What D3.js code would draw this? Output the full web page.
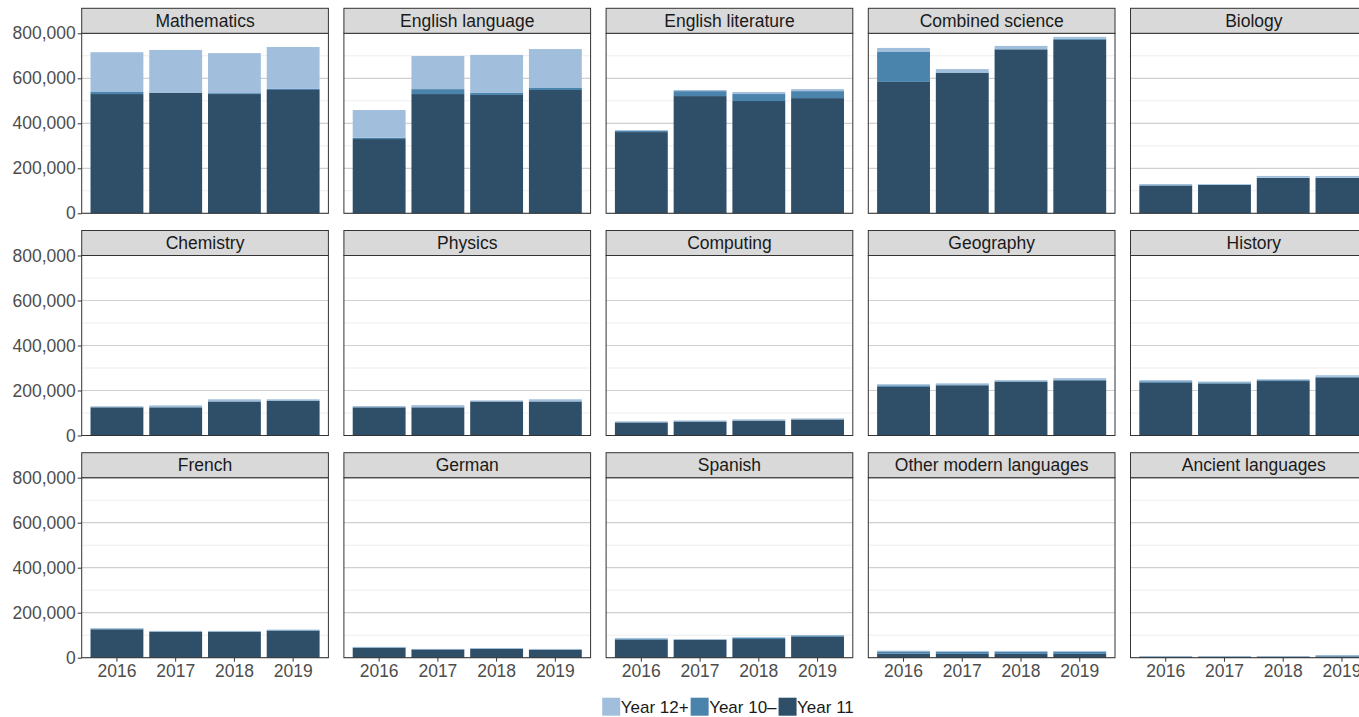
<!DOCTYPE html>
<html>
<head>
<meta charset="utf-8">
<script src="https://cdn.jsdelivr.net/npm/d3@7"></script>
<style>
  body { margin: 0; background: #fff; }
  svg { display: block; font-family: "Liberation Sans", Arial, Helvetica, sans-serif; }
</style>
</head>
<body>
<div id="chart"></div>
<script>
// subjects in facet order (row by row)
const subjects = [
    'Mathematics', 'English language', 'English literature', 'Combined science', 'Biology',
    'Chemistry', 'Physics', 'Computing', 'Geography', 'History',
    'French', 'German', 'Spanish', 'Other modern languages', 'Ancient languages'
];
const years = ['2016', '2017', '2018', '2019'];

// entries per subject, one value per year
const year11 = [
    [530000, 535000, 530000, 548000],
    [330000, 530000, 526000, 548000],
    [361000, 521000, 499000, 512000],
    [584000, 624000, 728000, 771000],
    [123000, 126000, 157000, 157000],
    [125000, 125000, 151000, 154000],
    [125000, 125000, 151000, 151000],
    [58000, 62000, 66000, 71000],
    [216000, 223000, 238000, 245000],
    [234000, 231000, 242000, 258000],
    [126000, 115000, 115000, 119000],
    [44000, 36000, 39000, 35000],
    [80000, 79000, 83000, 93000],
    [18000, 17000, 17000, 17000],
    [4000, 4000, 4000, 5000]
];
const year10 = [
    [9000, 2000, 4000, 5000],
    [6000, 22000, 9000, 9000],
    [5000, 22000, 31000, 31000],
    [133000, 2000, 2000, 5000],
    [2000, 1000, 1000, 1000],
    [1000, 1000, 1000, 2000],
    [1000, 1000, 1000, 1000],
    [1000, 1000, 1000, 1000],
    [7000, 4000, 3000, 2000],
    [7000, 5000, 4000, 3000],
    [3000, 2000, 2000, 3000],
    [2000, 2000, 2000, 2000],
    [5000, 2000, 6000, 6000],
    [10000, 10000, 10000, 10000],
    [2000, 2000, 2000, 5000]
];
const year12 = [
    [177000, 189000, 178000, 186000],
    [123000, 147000, 169000, 173000],
    [4000, 5000, 9000, 9000],
    [18000, 15000, 14000, 8000],
    [5000, 3000, 8000, 8000],
    [4000, 8000, 9000, 5000],
    [5000, 9000, 4000, 9000],
    [4000, 4000, 5000, 4000],
    [5000, 5000, 5000, 8000],
    [5000, 4000, 4000, 7000],
    [3000, 2000, 2000, 3000],
    [2000, 1000, 2000, 2000],
    [3000, 2000, 3000, 2000],
    [3000, 3000, 3000, 3000],
    [1000, 1000, 1000, 2000]
];
const yTicks = [0, 200000, 400000, 600000, 800000];
const legendLabels = ['Year 12+', 'Year 10\u2013', 'Year 11'];
const colors = { year11: '#2f4f69', year10: '#4a83ac', year12: '#a1bfdc' };

const width = 1359, height = 717;
const nCols = 5;
const panelLeft = 81.7, colStep = 262.2, panelW = 246.7;
const stripTop = 8.3, rowStep = 222.2, stripH = 25, panelH = 180;

const svg = d3.select('#chart').append('svg')
    .attr('width', width)
    .attr('height', height);

const x = d3.scaleBand().domain(years).range([0, panelW])
    .paddingInner(0.1).paddingOuter(0.15);
const y = d3.scaleLinear().domain([0, 800000]).range([panelH, 0]);
const minorTicks = [100000, 300000, 500000, 700000];

const stack = d3.stack().keys(['year11', 'year10', 'year12']);

subjects.forEach(function (subject, i) {
    const col = i % nCols, row = Math.floor(i / nCols);
    const px = panelLeft + col * colStep;
    const sy = stripTop + row * rowStep;
    const py = sy + stripH;

    const g = svg.append('g').attr('transform', `translate(${px},${py})`);

    // grid
    g.selectAll('.minor').data(minorTicks).enter().append('line')
        .attr('x1', 0).attr('x2', panelW)
        .attr('y1', d => y(d)).attr('y2', d => y(d))
        .attr('stroke', '#ededed').attr('stroke-width', 1);
    g.selectAll('.major').data(yTicks).enter().append('line')
        .attr('x1', 0).attr('x2', panelW)
        .attr('y1', d => y(d)).attr('y2', d => y(d))
        .attr('stroke', '#d0d0d0').attr('stroke-width', 1.2);

    // stacked bars
    const rows = years.map((yr, j) => ({
        year: yr, year11: year11[i][j], year10: year10[i][j], year12: year12[i][j]
    }));
    const series = stack(rows);
    g.selectAll('.series').data(series).enter().append('g')
        .attr('fill', s => colors[s.key])
        .selectAll('rect').data(s => s).enter().append('rect')
        .attr('x', d => x(d.data.year))
        .attr('width', x.bandwidth())
        .attr('y', d => y(d[1]))
        .attr('height', d => y(d[0]) - y(d[1]));

    // panel border
    g.append('rect')
        .attr('width', panelW).attr('height', panelH)
        .attr('fill', 'none').attr('stroke', '#333').attr('stroke-width', 1);

    // strip
    svg.append('rect')
        .attr('x', px).attr('y', sy)
        .attr('width', panelW).attr('height', stripH)
        .attr('fill', '#d9d9d9').attr('stroke', '#333').attr('stroke-width', 1);
    svg.append('text')
        .attr('x', px + panelW / 2).attr('y', sy + stripH / 2)
        .attr('dy', '0.35em')
        .attr('text-anchor', 'middle')
        .attr('font-size', '17.5px')
        .attr('fill', '#1a1a1a')
        .text(subject);

    // y axis on first column
    if (col === 0) {
        const ax = g.append('g')
            .call(d3.axisLeft(y).tickValues(yTicks).tickSize(4).tickPadding(2)
                .tickFormat(d3.format(',')));
        ax.select('.domain').remove();
        ax.selectAll('line').attr('stroke', '#333');
        ax.selectAll('text').attr('font-size', '17.5px').attr('fill', '#4d4d4d')
            .attr('font-family', '"Liberation Sans", Arial, Helvetica, sans-serif');
    }
    // x axis on bottom row
    if (row === 2) {
        const ax = g.append('g').attr('transform', `translate(0,${panelH})`)
            .call(d3.axisBottom(x).tickSize(4).tickPadding(3));
        ax.select('.domain').remove();
        ax.selectAll('line').attr('stroke', '#333');
        ax.selectAll('text').attr('font-size', '17.5px').attr('fill', '#4d4d4d')
            .attr('font-family', '"Liberation Sans", Arial, Helvetica, sans-serif');
    }
});

// legend
const legendColors = [colors.year12, colors.year10, colors.year11];
const legend = svg.append('g');
let lx = 0;
legendLabels.forEach(function (label, k) {
    legend.append('rect')
        .attr('x', lx).attr('y', 0)
        .attr('width', 18).attr('height', 18)
        .attr('fill', legendColors[k]);
    const t = legend.append('text')
        .attr('x', lx + 18.5).attr('y', 9)
        .attr('dy', '0.35em')
        .attr('font-size', '17px')
        .attr('fill', '#1a1a1a')
        .text(label);
    lx += 18.5 + t.node().getComputedTextLength() + 2;
});
legend.attr('transform', `translate(${729 - lx / 2},697.7)`);
</script>
</body>
</html>
